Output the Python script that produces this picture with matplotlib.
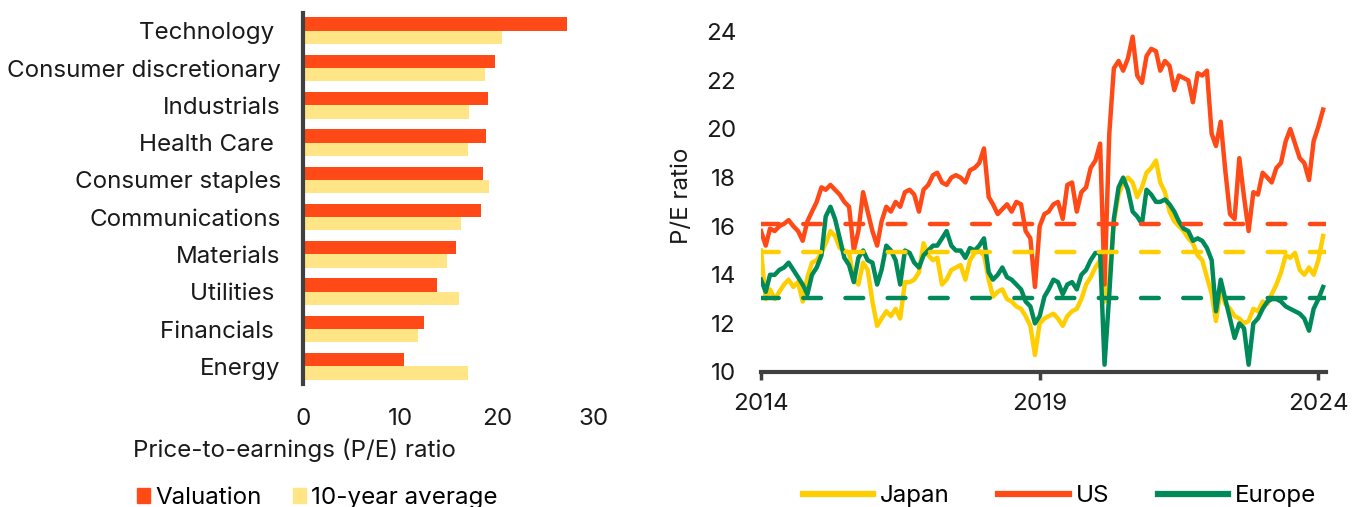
import numpy as np
import pandas as pd
import matplotlib.pyplot as plt
from matplotlib.patches import Patch
from matplotlib.lines import Line2D

plt.rcParams['font.family'] = ['Inter', 'DejaVu Sans']

RED = '#FF4A17'
BAR_YELLOW = '#FFE585'
LINE_YELLOW = '#FFCE00'
GREEN = '#008A5A'
SPINE = '#404040'
TXT = '#1a1a1a'
FS = 17.4

# --- left panel: sector valuations ---
sectors = ['Technology ', 'Consumer discretionary', 'Industrials', 'Health Care ',
           'Consumer staples', 'Communications', 'Materials', 'Utilities ',
           'Financials ', 'Energy']
valuation = [27.2, 19.75, 19.1, 18.9, 18.6, 18.3, 15.8, 13.8, 12.45, 10.4]
avg_10y = [20.5, 18.8, 17.1, 17.0, 19.2, 16.3, 14.85, 16.1, 11.9, 17.0]
bar_ticks = [0, 10, 20, 30]

# --- right panel: regional forward P/E, monthly from Jan 2014 ---
dates = pd.date_range('2014-01-01', periods=122, freq='MS')
us = [15.8, 15.2, 15.9, 15.8, 16.0, 16.1, 16.25, 16.0, 15.8, 15.4, 16.2, 16.6,
      17.0, 17.6, 17.5, 17.7, 17.5, 17.3, 17.0, 16.8, 15.0, 15.8, 17.4, 16.6,
      15.8, 15.2, 16.2, 16.8, 16.6, 17.0, 16.8, 17.4, 17.5, 17.3, 16.6, 17.5,
      17.7, 18.1, 18.2, 17.8, 17.7, 18.0, 18.1, 18.0, 17.8, 18.3, 18.4, 18.6,
      19.2, 17.2, 16.9, 16.5, 16.7, 16.9, 16.6, 17.0, 16.9, 15.8, 15.5, 13.5,
      16.0, 16.5, 16.6, 16.9, 17.0, 16.3, 17.7, 17.8, 16.6, 17.4, 17.6, 18.4,
      18.7, 19.4, 13.6, 19.8, 22.5, 22.8, 22.4, 22.9, 23.8, 22.2, 21.9, 23.0,
      23.3, 23.2, 22.4, 22.8, 22.6, 21.6, 22.2, 22.1, 22.0, 21.1, 22.3, 22.2,
      22.4, 19.8, 19.3, 20.3, 18.3, 16.5, 16.3, 18.8, 17.2, 15.8, 17.4, 17.3,
      18.2, 18.0, 17.8, 18.4, 18.6, 19.5, 20.0, 19.4, 18.8, 18.6, 17.9, 19.5,
      20.1, 20.8]
japan = [15.0, 13.0, 13.4, 13.0, 13.3, 13.6, 13.8, 13.5, 13.7, 12.9, 13.9, 14.5,
         14.6, 14.9, 15.3, 15.8, 15.6, 15.1, 15.0, 14.9, 13.8, 13.6, 14.5, 14.2,
         12.9, 11.9, 12.2, 12.5, 12.3, 12.6, 12.2, 13.7, 13.7, 13.8, 14.1, 15.3,
         14.8, 14.6, 14.7, 13.6, 13.8, 14.2, 14.3, 14.4, 13.8, 14.6, 14.9, 15.0,
         14.8, 13.8, 13.1, 13.3, 13.4, 13.0, 12.9, 12.7, 12.6, 12.3, 11.9, 10.7,
         12.0, 12.2, 12.3, 12.4, 12.2, 11.9, 12.3, 12.5, 12.6, 13.0, 13.6, 13.9,
         14.3, 14.6, 12.9, 13.8, 16.2, 17.3, 17.8, 18.0, 17.8, 17.2, 17.6, 18.2,
         18.4, 18.7, 17.8, 17.4, 16.6, 16.2, 16.0, 15.8, 15.5, 15.3, 14.8, 14.6,
         13.9, 13.2, 12.1, 13.4, 12.8, 12.6, 12.3, 12.2, 12.0, 12.1, 12.6, 12.5,
         12.9, 12.8, 13.2, 13.6, 14.1, 14.8, 14.7, 14.9, 14.2, 14.0, 14.3, 14.0,
         14.6, 15.6]
europe = [13.8, 13.3, 14.0, 14.0, 14.2, 14.3, 14.5, 14.2, 13.9, 13.6, 13.2, 14.0,
          14.3, 14.8, 16.4, 16.8, 16.3, 15.5, 14.7, 14.4, 13.7, 14.7, 15.0, 14.6,
          14.5, 13.6, 14.2, 15.2, 15.0, 14.6, 13.6, 15.0, 14.9, 14.5, 14.3, 14.8,
          15.0, 15.2, 15.2, 15.5, 15.8, 15.2, 15.0, 15.0, 14.7, 15.1, 15.0, 15.2,
          15.5, 14.1, 13.8, 14.0, 14.3, 13.9, 13.8, 13.6, 13.4, 12.9, 12.7, 12.0,
          12.3, 13.1, 13.4, 13.8, 13.7, 13.2, 13.6, 13.7, 13.4, 14.0, 14.2, 14.6,
          14.9, 14.9, 10.3, 13.2, 16.3, 17.6, 18.0, 17.5, 16.6, 16.4, 16.1, 17.5,
          17.3, 17.0, 17.0, 17.1, 16.9, 16.6, 16.2, 15.9, 15.8, 15.4, 15.5, 15.4,
          15.1, 14.6, 12.5, 13.8, 13.0, 12.2, 11.4, 12.0, 11.8, 10.3, 12.0, 12.2,
          12.6, 12.9, 13.0, 13.0, 12.9, 12.7, 12.6, 12.5, 12.4, 12.2, 11.7, 12.6,
          13.0, 13.5]
avg_us, avg_japan, avg_europe = 16.1, 14.95, 13.05
pe_ticks = [10, 12, 14, 16, 18, 20, 22, 24]
year_ticks = ['2014', '2019', '2024']

W, H = 1365, 507
fig = plt.figure(figsize=(W / 100, H / 100), dpi=100)

# left bars
ax1 = fig.add_axes([303 / W, 1 - 384 / H, (594 - 303) / W, (384 - 13) / H])
pos = np.arange(len(sectors))
bh = 0.357
ax1.barh(pos - bh / 2, valuation, height=bh, color=RED)
ax1.barh(pos + bh / 2, avg_10y, height=bh, color=BAR_YELLOW)
ax1.set_ylim(len(sectors) - 0.53, -0.47)
ax1.set_xlim(0, 30)
ax1.set_yticks(pos)
ax1.set_yticklabels(sectors)
ax1.set_xticks(bar_ticks)
ax1.tick_params(axis='both', length=0, labelsize=FS, colors=TXT)
ax1.tick_params(axis='y', pad=16)
ax1.tick_params(axis='x', pad=17)
for s in ['top', 'right', 'bottom']:
    ax1.spines[s].set_visible(False)
ax1.spines['left'].set_color(SPINE)
ax1.spines['left'].set_linewidth(3)

fig.text(133 / W, 1 - 450 / H, 'Price-to-earnings (P/E) ratio', fontsize=FS,
         color=TXT, ha='left', va='center')
fig.legend(handles=[Patch(color=RED, label='Valuation'),
                    Patch(color=BAR_YELLOW, label='10-year average')],
           loc='center left', bbox_to_anchor=(137 / W, 1 - 498 / H), ncol=2,
           frameon=False, fontsize=FS, handlelength=0.55, handleheight=0.55,
           handletextpad=0.2, columnspacing=1.3, borderpad=0, borderaxespad=0)

# right lines
ax2 = fig.add_axes([761 / W, 1 - 372 / H, (1326 - 761) / W, (372 - 20) / H])
lw = 3.2
ax2.plot(dates, japan, color=LINE_YELLOW, lw=lw, solid_joinstyle='round')
ax2.plot(dates, us, color=RED, lw=lw, solid_joinstyle='round')
ax2.plot(dates, europe, color=GREEN, lw=lw, solid_joinstyle='round')
for val, col in [(avg_us, RED), (avg_japan, LINE_YELLOW), (avg_europe, GREEN)]:
    ax2.axhline(val, color=col, lw=lw, dashes=(4, 5.5), dash_capstyle='round')
ax2.set_xlim(pd.Timestamp('2014-01-01'), pd.Timestamp('2024-02-20'))
ax2.set_ylim(10, 10 + 352 / 24.3)
ax2.set_yticks(pe_ticks)
ax2.set_xticks([pd.Timestamp(y + '-01-01') for y in year_ticks])
ax2.set_xticklabels(year_ticks)
ax2.tick_params(axis='y', length=0, labelsize=FS, colors=TXT, pad=18)
ax2.tick_params(axis='x', length=6, width=2.5, color=SPINE, labelsize=FS,
                labelcolor=TXT, pad=9)
ax2.set_ylabel('P/E ratio', fontsize=FS, color=TXT, labelpad=9)
for s in ['top', 'right', 'left']:
    ax2.spines[s].set_visible(False)
ax2.spines['bottom'].set_color(SPINE)
ax2.spines['bottom'].set_linewidth(3)

fig.legend(handles=[Line2D([], [], color=LINE_YELLOW, lw=4.5, label='Japan'),
                    Line2D([], [], color=RED, lw=4.5, label='US'),
                    Line2D([], [], color=GREEN, lw=4.5, label='Europe')],
           loc='center left', bbox_to_anchor=(803 / W, 1 - 496 / H), ncol=3,
           frameon=False, fontsize=FS, handlelength=2.9, handletextpad=0.3,
           columnspacing=2.0, borderpad=0, borderaxespad=0)

fig.savefig('out.png', dpi=100)
